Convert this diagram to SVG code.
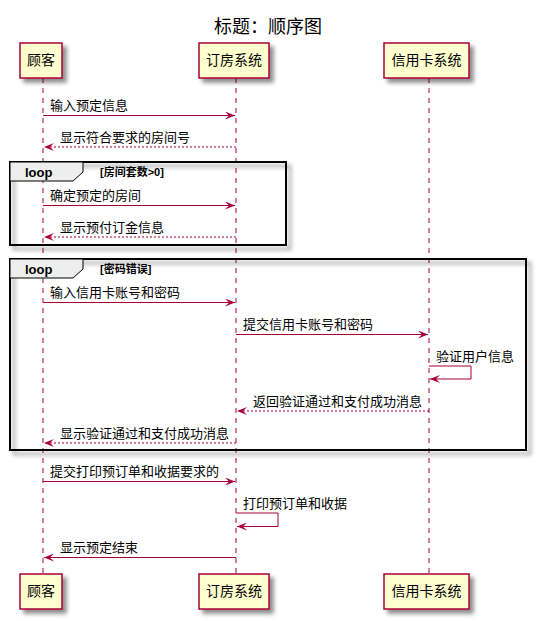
<svg xmlns="http://www.w3.org/2000/svg" width="538" height="621" viewBox="0 0 538 621">
<defs>
<filter id="sh" x="-10%" y="-10%" width="130%" height="140%">
<feGaussianBlur in="SourceAlpha" stdDeviation="2" result="b"/>
<feColorMatrix in="b" type="matrix" values="0 0 0 0 0  0 0 0 0 0  0 0 0 0 0  0 0 0 0.45 0" result="c"/>
<feOffset in="c" dx="4" dy="4" result="o"/>
<feMerge><feMergeNode in="o"/><feMergeNode in="SourceGraphic"/></feMerge>
</filter>
<marker id="ah" markerWidth="10" markerHeight="8" refX="10" refY="4" orient="auto" markerUnits="userSpaceOnUse">
<polygon points="0,0 10,4 0,8 4,4" fill="#A80036"/>
</marker>
</defs>
<style>
text{font-family:"Liberation Sans","Noto Sans CJK SC",sans-serif;fill:#000}
.t{font-size:18px;text-anchor:middle}
.p{font-size:14px;text-anchor:middle}
.m{font-size:13px}
.box{fill:#FEFECE;stroke:#A80036;stroke-width:1.5}
.life{stroke:#A80036;stroke-width:1;stroke-dasharray:5,5}
.sol{stroke:#A80036;stroke-width:1;fill:none}
.dash{stroke:#A80036;stroke-width:1;fill:none;stroke-dasharray:2,2}
.frame{fill:none;stroke:#000;stroke-width:2}
.tab{fill:#EEEEEE;stroke:#000;stroke-width:1}
.lb{font-size:13px;font-weight:bold}
.cd{font-size:11px;font-weight:bold}
</style>
<rect width="538" height="621" fill="#fff"/>
<text class="t" x="268" y="33">标题：顺序图</text>

<g id="lifelines">
<line class="life" x1="43" y1="78" x2="43" y2="574"/>
<line class="life" x1="236" y1="78" x2="236" y2="574"/>
<line class="life" x1="429" y1="78" x2="429" y2="574"/>
</g>

<g id="loop1">
<rect class="frame" x="10" y="162" width="276" height="83" filter="url(#sh)"/>
<polygon class="tab" points="10,162 83,162 83,172 73,181 10,181"/>
<text class="lb" x="25" y="177">loop</text>
<text class="cd" x="100" y="176">[房间套数&gt;0]</text>
</g>
<g id="loop2">
<rect class="frame" x="10" y="259" width="516" height="191" filter="url(#sh)"/>
<polygon class="tab" points="10,259 83,259 83,269 73,278 10,278"/>
<text class="lb" x="25" y="274">loop</text>
<text class="cd" x="100" y="273">[密码错误]</text>
</g>

<g id="p_guke_top"><rect class="box" x="20" y="43" width="42" height="35" filter="url(#sh)"/><text class="p" x="41" y="65">顾客</text></g>
<g id="p_dingfang_top"><rect class="box" x="199" y="43" width="70" height="35" filter="url(#sh)"/><text class="p" x="234" y="65">订房系统</text></g>
<g id="p_xinyong_top"><rect class="box" x="384" y="43" width="85" height="35" filter="url(#sh)"/><text class="p" x="426.5" y="65">信用卡系统</text></g>
<g id="p_guke_bot"><rect class="box" x="20" y="574" width="42" height="35" filter="url(#sh)"/><text class="p" x="41" y="596">顾客</text></g>
<g id="p_dingfang_bot"><rect class="box" x="199" y="574" width="70" height="35" filter="url(#sh)"/><text class="p" x="234" y="596">订房系统</text></g>
<g id="p_xinyong_bot"><rect class="box" x="384" y="574" width="85" height="35" filter="url(#sh)"/><text class="p" x="426.5" y="596">信用卡系统</text></g>

<g id="connectors">
<line class="sol" x1="43" y1="115.5" x2="235" y2="115.5" marker-end="url(#ah)"/>
<line class="dash" x1="236" y1="147" x2="44" y2="147" marker-end="url(#ah)"/>
<line class="sol" x1="43" y1="205.5" x2="235" y2="205.5" marker-end="url(#ah)"/>
<line class="dash" x1="236" y1="237" x2="44" y2="237" marker-end="url(#ah)"/>
<line class="sol" x1="43" y1="302.5" x2="235" y2="302.5" marker-end="url(#ah)"/>
<line class="sol" x1="236" y1="334.5" x2="428" y2="334.5" marker-end="url(#ah)"/>
<polyline class="sol" points="429,366 471,366 471,379 430,379" marker-end="url(#ah)"/>
<line class="dash" x1="429" y1="411" x2="237" y2="411" marker-end="url(#ah)"/>
<line class="dash" x1="236" y1="443" x2="44" y2="443" marker-end="url(#ah)"/>
<line class="sol" x1="43" y1="481.5" x2="235" y2="481.5" marker-end="url(#ah)"/>
<polyline class="sol" points="236,513 278,513 278,526.5 237,526.5" marker-end="url(#ah)"/>
<line class="sol" x1="236" y1="557.5" x2="44" y2="557.5" marker-end="url(#ah)"/>
</g>

<g id="labels">
<text class="m" x="50" y="110">输入预定信息</text>
<text class="m" x="60" y="142">显示符合要求的房间号</text>
<text class="m" x="50" y="200">确定预定的房间</text>
<text class="m" x="60" y="232">显示预付订金信息</text>
<text class="m" x="50" y="297">输入信用卡账号和密码</text>
<text class="m" x="243" y="329">提交信用卡账号和密码</text>
<text class="m" x="436" y="361">验证用户信息</text>
<text class="m" x="253" y="406">返回验证通过和支付成功消息</text>
<text class="m" x="60" y="438">显示验证通过和支付成功消息</text>
<text class="m" x="50" y="476">提交打印预订单和收据要求的</text>
<text class="m" x="243" y="508">打印预订单和收据</text>
<text class="m" x="60" y="552">显示预定结束</text>
</g>
</svg>
